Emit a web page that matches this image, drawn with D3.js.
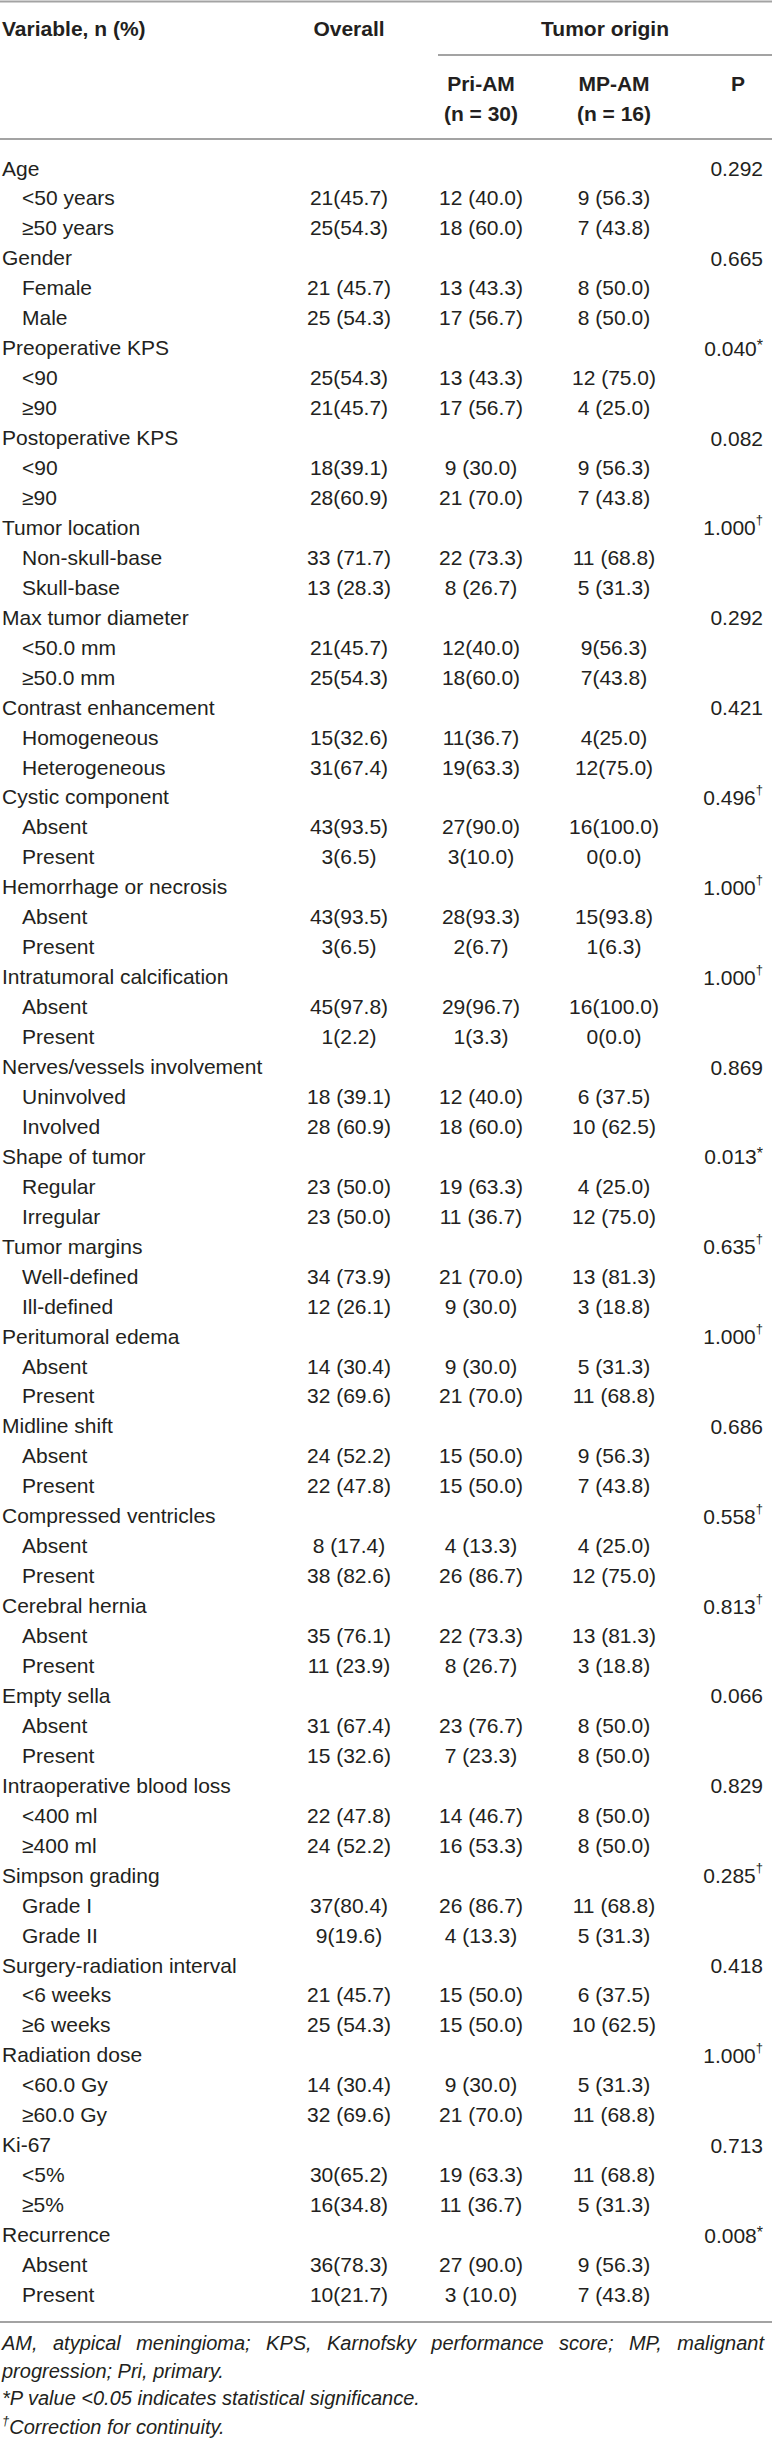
<!DOCTYPE html>
<html>
<head>
<meta charset="utf-8">
<script src="https://cdn.jsdelivr.net/npm/d3@7/dist/d3.min.js"></script>
<style>
  html, body { margin: 0; padding: 0; background: #fff; }
  svg { display: block; }
  text { font-family: "Liberation Sans", Arial, Helvetica, sans-serif; fill: #231f20; }
</style>
</head>
<body>
<svg id="chart" width="772" height="2440"></svg>
<script>
// ---------------- DATA ----------------
const groups = ["Age", "Gender", "Preoperative KPS", "Postoperative KPS", "Tumor location",
  "Max tumor diameter", "Contrast enhancement", "Cystic component", "Hemorrhage or necrosis",
  "Intratumoral calcification", "Nerves/vessels involvement", "Shape of tumor", "Tumor margins",
  "Peritumoral edema", "Midline shift", "Compressed ventricles", "Cerebral hernia", "Empty sella",
  "Intraoperative blood loss", "Simpson grading", "Surgery-radiation interval", "Radiation dose",
  "Ki-67", "Recurrence"];

const pValues = ["0.292", "0.665", "0.040", "0.082", "1.000", "0.292", "0.421", "0.496", "1.000",
  "1.000", "0.869", "0.013", "0.635", "1.000", "0.686", "0.558", "0.813", "0.066", "0.829",
  "0.285", "0.418", "1.000", "0.713", "0.008"];

const pMarks = ["", "", "*", "", "†", "", "", "†", "†", "†", "", "*", "†", "†", "", "†", "†", "",
  "", "†", "", "†", "", "*"];

const subLabels = [
  ["<50 years", "≥50 years"], ["Female", "Male"], ["<90", "≥90"], ["<90", "≥90"],
  ["Non-skull-base", "Skull-base"], ["<50.0 mm", "≥50.0 mm"], ["Homogeneous", "Heterogeneous"],
  ["Absent", "Present"], ["Absent", "Present"], ["Absent", "Present"], ["Uninvolved", "Involved"],
  ["Regular", "Irregular"], ["Well-defined", "Ill-defined"], ["Absent", "Present"],
  ["Absent", "Present"], ["Absent", "Present"], ["Absent", "Present"], ["Absent", "Present"],
  ["<400 ml", "≥400 ml"], ["Grade I", "Grade II"], ["<6 weeks", "≥6 weeks"],
  ["<60.0 Gy", "≥60.0 Gy"], ["<5%", "≥5%"], ["Absent", "Present"]];

const overall = [
  ["21(45.7)", "25(54.3)"], ["21 (45.7)", "25 (54.3)"], ["25(54.3)", "21(45.7)"],
  ["18(39.1)", "28(60.9)"], ["33 (71.7)", "13 (28.3)"], ["21(45.7)", "25(54.3)"],
  ["15(32.6)", "31(67.4)"], ["43(93.5)", "3(6.5)"], ["43(93.5)", "3(6.5)"],
  ["45(97.8)", "1(2.2)"], ["18 (39.1)", "28 (60.9)"], ["23 (50.0)", "23 (50.0)"],
  ["34 (73.9)", "12 (26.1)"], ["14 (30.4)", "32 (69.6)"], ["24 (52.2)", "22 (47.8)"],
  ["8 (17.4)", "38 (82.6)"], ["35 (76.1)", "11 (23.9)"], ["31 (67.4)", "15 (32.6)"],
  ["22 (47.8)", "24 (52.2)"], ["37(80.4)", "9(19.6)"], ["21 (45.7)", "25 (54.3)"],
  ["14 (30.4)", "32 (69.6)"], ["30(65.2)", "16(34.8)"], ["36(78.3)", "10(21.7)"]];

const priAM = [
  ["12 (40.0)", "18 (60.0)"], ["13 (43.3)", "17 (56.7)"], ["13 (43.3)", "17 (56.7)"],
  ["9 (30.0)", "21 (70.0)"], ["22 (73.3)", "8 (26.7)"], ["12(40.0)", "18(60.0)"],
  ["11(36.7)", "19(63.3)"], ["27(90.0)", "3(10.0)"], ["28(93.3)", "2(6.7)"],
  ["29(96.7)", "1(3.3)"], ["12 (40.0)", "18 (60.0)"], ["19 (63.3)", "11 (36.7)"],
  ["21 (70.0)", "9 (30.0)"], ["9 (30.0)", "21 (70.0)"], ["15 (50.0)", "15 (50.0)"],
  ["4 (13.3)", "26 (86.7)"], ["22 (73.3)", "8 (26.7)"], ["23 (76.7)", "7 (23.3)"],
  ["14 (46.7)", "16 (53.3)"], ["26 (86.7)", "4 (13.3)"], ["15 (50.0)", "15 (50.0)"],
  ["9 (30.0)", "21 (70.0)"], ["19 (63.3)", "11 (36.7)"], ["27 (90.0)", "3 (10.0)"]];

const mpAM = [
  ["9 (56.3)", "7 (43.8)"], ["8 (50.0)", "8 (50.0)"], ["12 (75.0)", "4 (25.0)"],
  ["9 (56.3)", "7 (43.8)"], ["11 (68.8)", "5 (31.3)"], ["9(56.3)", "7(43.8)"],
  ["4(25.0)", "12(75.0)"], ["16(100.0)", "0(0.0)"], ["15(93.8)", "1(6.3)"],
  ["16(100.0)", "0(0.0)"], ["6 (37.5)", "10 (62.5)"], ["4 (25.0)", "12 (75.0)"],
  ["13 (81.3)", "3 (18.8)"], ["5 (31.3)", "11 (68.8)"], ["9 (56.3)", "7 (43.8)"],
  ["4 (25.0)", "12 (75.0)"], ["13 (81.3)", "3 (18.8)"], ["8 (50.0)", "8 (50.0)"],
  ["8 (50.0)", "8 (50.0)"], ["11 (68.8)", "5 (31.3)"], ["6 (37.5)", "10 (62.5)"],
  ["5 (31.3)", "11 (68.8)"], ["11 (68.8)", "5 (31.3)"], ["9 (56.3)", "7 (43.8)"]];

const columnHeaders = ["Variable, n (%)", "Overall", "Pri-AM", "MP-AM", "P"];
const groupHeader = "Tumor origin";
const nLabels = ["(n = 30)", "(n = 16)"];

const footnoteLine1 = "AM, atypical meningioma; KPS, Karnofsky performance score; MP, malignant";
const footnoteLine2 = "progression; Pri, primary.";
const footnoteLine3 = "*P value <0.05 indicates statistical significance.";
const footnoteLine4 = "Correction for continuity.";

// ---------------- LAYOUT ----------------
const W = 772;
const svg = d3.select("#chart");
const ruleColor = "#a3a3a3";
const fs = 21;

// build row list
const rows = [];
groups.forEach((g, i) => {
  rows.push({ type: "group", label: g, p: pValues[i], mark: pMarks[i] });
  for (let k = 0; k < 2; k++) {
    rows.push({ type: "sub", label: subLabels[i][k], ov: overall[i][k], pri: priAM[i][k], mp: mpAM[i][k] });
  }
});

const y = d3.scaleLinear().domain([0, rows.length - 1]).range([168, 2294.5]);
const x = d3.scaleOrdinal()
  .domain(["label", "sub", "overall", "pri", "mp", "p", "pHead"])
  .range([2, 22, 349, 481, 614, 763, 738]);

// rules
const rules = [
  { x1: 0, x2: W, y: 1.5 },
  { x1: 438, x2: W, y: 55 },
  { x1: 0, x2: W, y: 139 },
  { x1: 0, x2: W, y: 2322 }
];
svg.selectAll("line.rule").data(rules).join("line")
  .attr("class", "rule")
  .attr("x1", d => d.x1).attr("x2", d => d.x2)
  .attr("y1", d => d.y).attr("y2", d => d.y)
  .attr("stroke", ruleColor).attr("stroke-width", 1.8);

// header
const hdr = svg.append("g").attr("font-weight", "bold").attr("font-size", fs);
hdr.append("text").attr("x", x("label")).attr("y", 28).attr("dominant-baseline", "central").text(columnHeaders[0]);
hdr.append("text").attr("x", x("overall")).attr("y", 28).attr("text-anchor", "middle").attr("dominant-baseline", "central").text(columnHeaders[1]);
hdr.append("text").attr("x", (438 + W) / 2).attr("y", 28).attr("text-anchor", "middle").attr("dominant-baseline", "central").text(groupHeader);
hdr.append("text").attr("x", x("pri")).attr("y", 83).attr("text-anchor", "middle").attr("dominant-baseline", "central").text(columnHeaders[2]);
hdr.append("text").attr("x", x("mp")).attr("y", 83).attr("text-anchor", "middle").attr("dominant-baseline", "central").text(columnHeaders[3]);
hdr.append("text").attr("x", x("pri")).attr("y", 113).attr("text-anchor", "middle").attr("dominant-baseline", "central").text(nLabels[0]);
hdr.append("text").attr("x", x("mp")).attr("y", 113).attr("text-anchor", "middle").attr("dominant-baseline", "central").text(nLabels[1]);
hdr.append("text").attr("x", x("pHead")).attr("y", 83).attr("text-anchor", "middle").attr("dominant-baseline", "central").text(columnHeaders[4]);

// body rows
const body = svg.append("g").attr("font-size", fs);
const rowG = body.selectAll("g.row").data(rows).join("g")
  .attr("class", "row")
  .attr("transform", (d, i) => `translate(0,${y(i)})`);

rowG.append("text")
  .attr("x", d => d.type === "group" ? x("label") : x("sub"))
  .attr("dominant-baseline", "central")
  .text(d => d.label);

const subRows = rowG.filter(d => d.type === "sub");
[["ov", "overall"], ["pri", "pri"], ["mp", "mp"]].forEach(([key, col]) => {
  subRows.append("text")
    .attr("x", x(col))
    .attr("text-anchor", "middle")
    .attr("dominant-baseline", "central")
    .text(d => d[key]);
});

const grpRows = rowG.filter(d => d.type === "group");
const pText = grpRows.append("text")
  .attr("x", x("p"))
  .attr("text-anchor", "end")
  .attr("dominant-baseline", "central");
pText.append("tspan").text(d => d.p);
pText.filter(d => d.mark === "†").append("tspan")
  .attr("font-size", 13).attr("dy", -8).text(d => d.mark);
pText.filter(d => d.mark === "*").append("tspan")
  .attr("font-size", 16).attr("dy", -3).text(d => d.mark);

// footnotes
const foot = svg.append("g").attr("font-size", 20).attr("font-style", "italic");
// justified first line
const words = footnoteLine1.split(" ");
const wordEls = words.map(w => foot.append("text").attr("y", 2343).attr("dominant-baseline", "central").text(w));
const widths = wordEls.map(e => e.node().getComputedTextLength());
const total = d3.sum(widths);
const left = 2, right = 764;
const gap = (right - left - total) / (words.length - 1);
let cx = left;
wordEls.forEach((e, i) => { e.attr("x", cx); cx += widths[i] + gap; });

foot.append("text").attr("x", 2).attr("y", 2371).attr("dominant-baseline", "central").text(footnoteLine2);
foot.append("text").attr("x", 2).attr("y", 2398).attr("dominant-baseline", "central").text(footnoteLine3);
const f4 = foot.append("text").attr("x", 2).attr("y", 2427).attr("dominant-baseline", "central");
f4.append("tspan").attr("font-size", 13).attr("dy", -7).text("†");
f4.append("tspan").attr("dy", 7).text(footnoteLine4);
</script>
</body>
</html>
